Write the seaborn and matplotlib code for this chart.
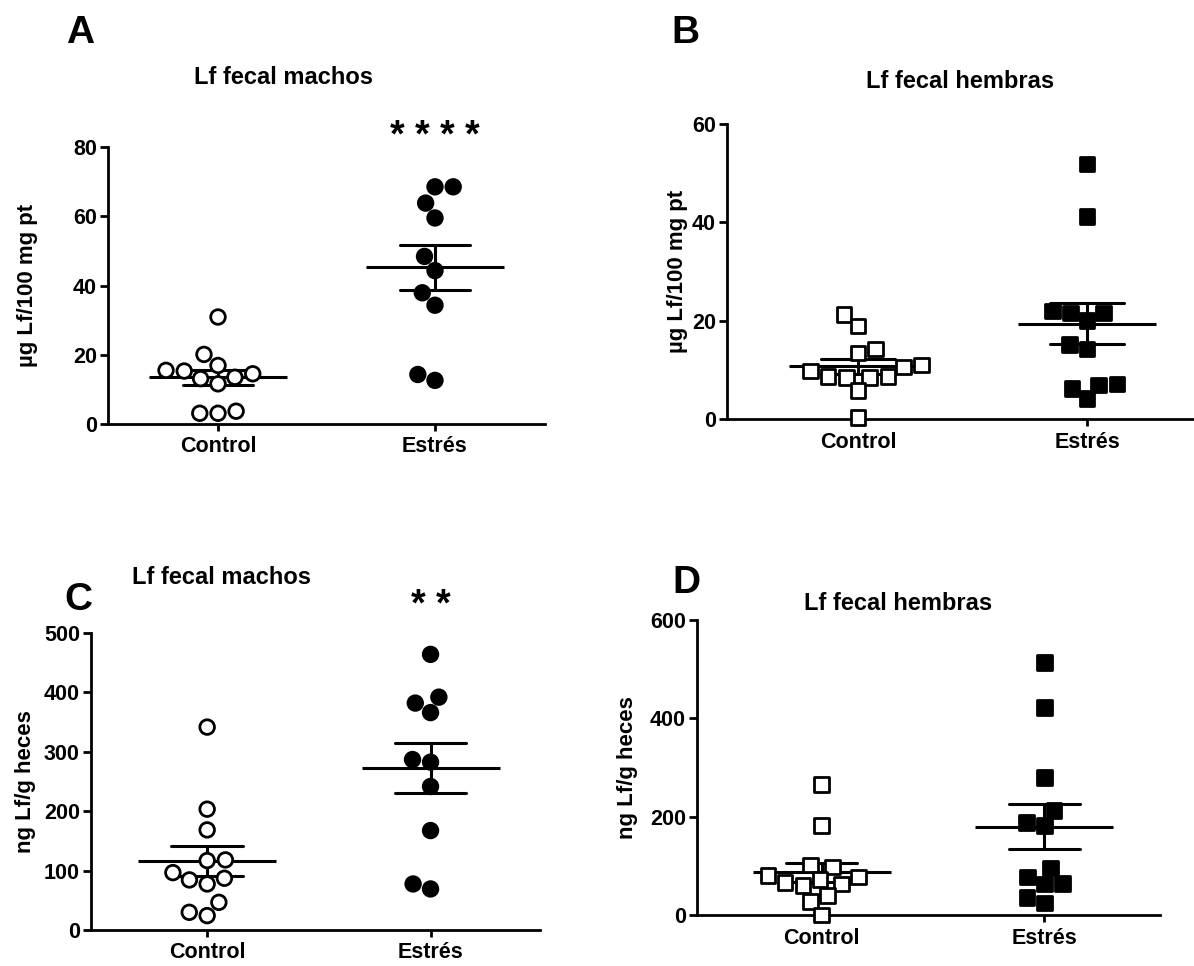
import pandas as pd
import matplotlib
matplotlib.use("Agg")
import matplotlib.pyplot as plt
import seaborn as sns

# Values (Lf fecal, control vs stress)
groups = ["Control", "Estrés"]

a_control = [30.9, 20.1, 16.9, 15.5, 15.3, 14.5, 13.5, 13.1, 11.6, 3.7, 3.1, 3.1]
a_estres = [68.5, 68.5, 63.8, 59.5, 48.4, 44.3, 37.9, 34.3, 14.3, 12.6]

b_control = [21.2, 18.9, 14.2, 13.4, 11.0, 10.6, 9.8, 8.7, 8.5, 8.5, 8.7, 5.8, 0.3]
b_estres = [51.9, 41.2, 22.0, 21.6, 21.6, 20.0, 15.2, 14.2, 7.1, 6.9, 6.2, 4.2]

c_control = [341.6, 203.4, 168.5, 118.0, 116.9, 96.6, 87.1, 84.3, 77.5, 46.6, 29.8, 24.2]
c_estres = [464, 392, 382, 366, 287, 282.6, 241.6, 167.4, 77.5, 69.1]

d_control = [265, 182, 102, 98, 80, 77, 72, 66, 63, 60, 40, 28, 0]
d_estres = [513, 422, 280, 212, 188, 182, 96, 77, 64, 63, 36, 24]

titles = ["Lf fecal machos", "Lf fecal hembras", "Lf fecal machos", "Lf fecal hembras"]
ylabels = ["µg Lf/100 mg pt", "µg Lf/100 mg pt", "ng Lf/g heces", "ng Lf/g heces"]
yticks_a = [0, 20, 40, 60, 80]
yticks_b = [0, 20, 40, 60]
yticks_c = [0, 100, 200, 300, 400, 500]
yticks_d = [0, 200, 400, 600]
stars = ["* * * *", "", "* *", ""]

sns.set_style("ticks")
plt.rcParams["font.family"] = ["Liberation Sans", "DejaVu Sans"]
plt.rcParams["font.weight"] = "bold"
for k in ["text.color", "axes.labelcolor", "xtick.color", "ytick.color", "axes.edgecolor"]:
    plt.rcParams[k] = "black"

W, H = 1194, 966
fig = plt.figure(figsize=(W / 100, H / 100), dpi=100)


def px_rect(left, right, top, bottom):
    return [left / W, (H - bottom) / H, (right - left) / W, (bottom - top) / H]


def panel(rect, xlim, ctrl, est, marker, yticks, ylabel, ylab_x, star, star_y):
    ax = fig.add_axes(rect)
    df = pd.DataFrame({
        "grupo": ["Control"] * len(ctrl) + ["Estrés"] * len(est),
        "valor": ctrl + est,
    })
    sns.swarmplot(data=df, x="grupo", y="valor", hue="grupo", order=groups,
                  palette={"Control": "white", "Estrés": "black"},
                  marker=marker, size=10.5, edgecolor="black", linewidth=2.0,
                  legend=False, ax=ax)
    # mean +/- SEM
    sns.pointplot(data=df, x="grupo", y="valor", order=groups, errorbar="se",
                  capsize=0.32, color="black", marker="_", markersize=100,
                  markeredgewidth=2.2, linestyle="none",
                  err_kws={"linewidth": 2.2}, ax=ax)
    for c in ax.collections:
        c.set_clip_on(False)
    for l in ax.lines:
        l.set_clip_on(False)
    ax.set_xlim(*xlim)
    ax.set_ylim(yticks[0], yticks[-1])
    ax.set_yticks(yticks)
    ax.set_xlabel("")
    ax.set_ylabel(ylabel, fontsize=16, fontweight="bold")
    ax.yaxis.set_label_coords(ylab_x, 0.5)
    sns.despine(ax=ax)
    for s in ["left", "bottom"]:
        ax.spines[s].set_linewidth(2.0)
    ax.tick_params(axis="y", length=6, width=2, labelsize=15.5, pad=2)
    ax.tick_params(axis="x", length=5, width=2, labelsize=15.5, pad=4)
    for t in ax.get_xticklabels() + ax.get_yticklabels():
        t.set_fontweight("bold")
    if star:
        ax.text(1, star_y, star, ha="center", va="center", fontsize=27,
                fontweight="bold", clip_on=False)
    return ax


panel(px_rect(108, 545, 147, 424), (-0.507, 1.507), a_control, a_estres, "o",
      yticks_a, ylabels[0], -0.160, stars[0], 83)
panel(px_rect(727, 1194, 124, 419), (-0.572, 1.467), b_control, b_estres, "s",
      yticks_b, ylabels[1], -0.084, stars[1], 0)
panel(px_rect(91, 540, 633, 930), (-0.52, 1.49), c_control, c_estres, "o",
      yticks_c, ylabels[2], -0.122, stars[2], 545)
panel(px_rect(697, 1160, 620, 915), (-0.56, 1.52), d_control, d_estres, "s",
      yticks_d, ylabels[3], -0.127, stars[3], 0)

# panel letters and titles
for letter, x, y in [("A", 80, 33), ("B", 685, 33), ("C", 78, 600), ("D", 686, 583)]:
    fig.text(x / W, 1 - y / H, letter, fontsize=28, fontweight="bold",
             ha="center", va="center")
for t, x, y in [(titles[0], 284, 77), (titles[1], 960, 82),
                (titles[2], 222, 577), (titles[3], 898, 603)]:
    fig.text(x / W, 1 - y / H, t, fontsize=17, fontweight="bold",
             ha="center", va="center")

fig.savefig("out.png", dpi=100)
